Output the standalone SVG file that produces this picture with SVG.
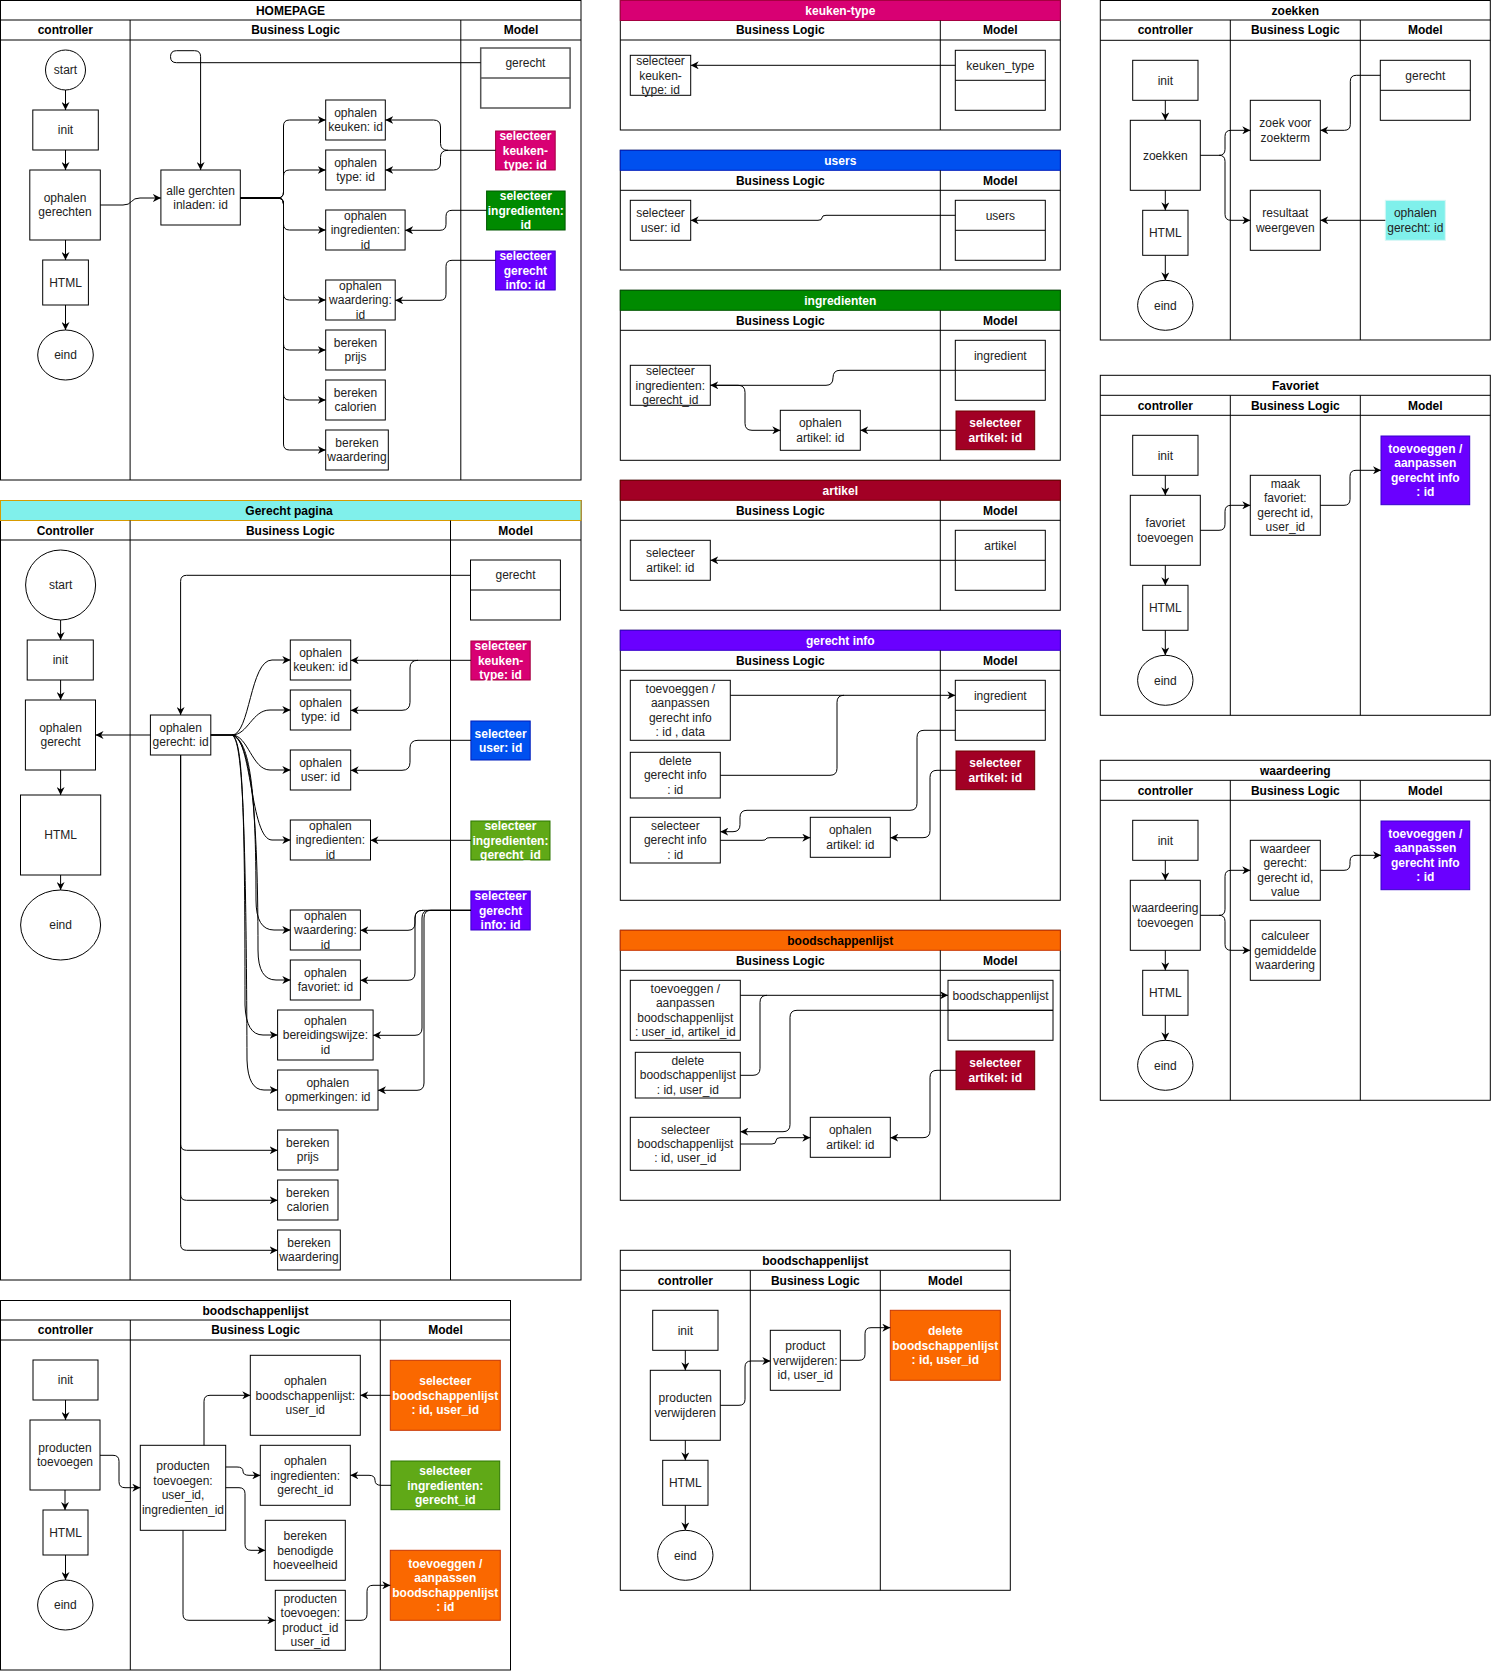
<svg xmlns="http://www.w3.org/2000/svg" width="1491" height="1671" viewBox="0 0 1491 1671">
<defs>
<marker id="arr" viewBox="0 0 10 10" refX="10" refY="5" markerWidth="8" markerHeight="8" markerUnits="userSpaceOnUse" orient="auto">
<path d="M0,0 L10,5 L0,10 L3,5 z" fill="#000"/>
</marker>
<style>
.lane{fill:none;stroke:#000;stroke-width:1}
.ln{stroke:#000;stroke-width:1;fill:none}
.n{fill:#fff;stroke:#000;stroke-width:1}
.ent{fill:#fff;stroke:#000;stroke-width:1}
.t{font-family:"Liberation Sans",Arial,sans-serif;font-size:12px;fill:#222;text-anchor:middle}
.b{font-weight:bold;fill:#000}
.wt{font-weight:bold;fill:#fff}
.e{stroke:#000;stroke-width:1;fill:none;marker-end:url(#arr)}
.c-mag{fill:#d80073;stroke:#A50040}
.c-grn{fill:#008a00;stroke:#005700}
.c-lgr{fill:#60a917;stroke:#2D7600}
.c-pur{fill:#6a00ff;stroke:#3700CC}
.c-blu{fill:#0050ef;stroke:#001DBC}
.c-org{fill:#fa6800;stroke:#C73500}
.c-red{fill:#a20025;stroke:#6F0000}
.c-cyn{fill:#80F0EB;stroke:#d8f7f5}
</style>
</defs>
<rect x="0" y="0" width="1491" height="1671" fill="#fff"/>

<!-- ============ HOMEPAGE ============ -->
<g id="pool-homepage">
<rect class="lane" x="0.5" y="0.5" width="580.5" height="479.5"/>
<path class="ln" d="M0.5,20 H581 M0.5,40 H581 M130.1,20 V480 M460.8,20 V480"/>
<text class="t b" x="290.5" y="14.5">HOMEPAGE</text>
<text class="t b" x="65.3" y="34.4">controller</text>
<text class="t b" x="295.5" y="34.4">Business Logic</text>
<text class="t b" x="521" y="34.4">Model</text>
</g>
<g id="hp-start"><circle class="n" cx="65.5" cy="70" r="20"/><text class="t" x="65.5" y="74.2">start</text></g>
<g id="hp-init"><rect class="n" x="32.8" y="110" width="65.5" height="40"/><text class="t" x="65.5" y="134.2">init</text></g>
<g id="hp-ophalen-gerechten"><rect class="n" x="29.8" y="170" width="70.5" height="70"/><text class="t" x="65" y="202">ophalen<tspan x="65" dy="14.4">gerechten</tspan></text></g>
<g id="hp-html"><rect class="n" x="42.7" y="260" width="45.7" height="45"/><text class="t" x="65.5" y="286.7">HTML</text></g>
<g id="hp-eind"><ellipse class="n" cx="65.5" cy="355" rx="27.8" ry="25"/><text class="t" x="65.5" y="359.2">eind</text></g>
<g id="hp-alle-gerechten"><rect class="n" x="160.9" y="170" width="79.4" height="55"/><text class="t" x="200.6" y="194.5">alle gerchten<tspan x="200.6" dy="14.4">inladen: id</tspan></text></g>
<g id="hp-gerecht"><rect class="ent" x="480.7" y="48" width="89.4" height="60" style="stroke:#555;stroke-width:1.5"/><path d="M480.7,78 H570.1" style="stroke:#555;stroke-width:1.5"/><text class="t" x="525.4" y="67.2">gerecht</text></g>
<g id="hp-ophalen-keuken"><rect class="n" x="325.7" y="100" width="59.6" height="40"/><text class="t" x="355.5" y="117">ophalen<tspan x="355.5" dy="14.4">keuken: id</tspan></text></g>
<g id="hp-ophalen-type"><rect class="n" x="325.7" y="150" width="59.6" height="40"/><text class="t" x="355.5" y="167">ophalen<tspan x="355.5" dy="14.4">type: id</tspan></text></g>
<g id="hp-ophalen-ingredienten"><rect class="n" x="325.7" y="210" width="79.4" height="40"/><text class="t" x="365.4" y="219.8">ophalen<tspan x="365.4" dy="14.4">ingredienten:</tspan><tspan x="365.4" dy="14.4">id</tspan></text></g>
<g id="hp-ophalen-waardering"><rect class="n" x="325.7" y="280" width="69.5" height="40"/><text class="t" x="360.4" y="289.8">ophalen<tspan x="360.4" dy="14.4">waardering:</tspan><tspan x="360.4" dy="14.4">id</tspan></text></g>
<g id="hp-bereken-prijs"><rect class="n" x="325.7" y="330" width="59.6" height="40"/><text class="t" x="355.5" y="347">bereken<tspan x="355.5" dy="14.4">prijs</tspan></text></g>
<g id="hp-bereken-calorien"><rect class="n" x="325.7" y="380" width="59.6" height="40"/><text class="t" x="355.5" y="397">bereken<tspan x="355.5" dy="14.4">calorien</tspan></text></g>
<g id="hp-bereken-waardering"><rect class="n" x="325.7" y="430" width="62.6" height="40"/><text class="t" x="357" y="447">bereken<tspan x="357" dy="14.4">waardering</tspan></text></g>
<g id="hp-sel-keuken-type"><rect class="c-mag" x="495.6" y="131" width="59.6" height="39"/><text class="t wt" x="525.4" y="140.3">selecteer<tspan x="525.4" dy="14.4">keuken-</tspan><tspan x="525.4" dy="14.4">type: id</tspan></text></g>
<g id="hp-sel-ingredienten"><rect class="c-grn" x="486.6" y="191" width="78.5" height="39"/><text class="t wt" x="525.8" y="200.3">selecteer<tspan x="525.8" dy="14.4">ingredienten:</tspan><tspan x="525.8" dy="14.4">id</tspan></text></g>
<g id="hp-sel-gerecht-info"><rect class="c-pur" x="495.6" y="251" width="59.6" height="39"/><text class="t wt" x="525.4" y="260.3">selecteer<tspan x="525.4" dy="14.4">gerecht</tspan><tspan x="525.4" dy="14.4">info: id</tspan></text></g>

<!-- ============ Gerecht pagina ============ -->
<g id="pool-gerecht-pagina">
<rect class="lane" x="0.5" y="500.5" width="580.5" height="779.5"/>
<rect x="0.5" y="500.5" width="580.5" height="20" fill="#80F0EB" stroke="#D79B00"/>
<path class="ln" d="M0.5,540 H581 M130.1,520.5 V1280 M450.5,520.5 V1280"/>
<text class="t b" x="289" y="514.9">Gerecht pagina</text>
<text class="t b" x="65.3" y="534.6">Controller</text>
<text class="t b" x="290.3" y="534.6">Business Logic</text>
<text class="t b" x="515.7" y="534.6">Model</text>
</g>
<g id="gp-start"><circle class="n" cx="60.6" cy="585" r="35"/><text class="t" x="60.6" y="589.2">start</text></g>
<g id="gp-init"><rect class="n" x="27.2" y="640" width="66.1" height="40"/><text class="t" x="60.3" y="664.2">init</text></g>
<g id="gp-ophalen-gerecht"><rect class="n" x="25.4" y="700" width="70.1" height="70"/><text class="t" x="60.5" y="732">ophalen<tspan x="60.5" dy="14.4">gerecht</tspan></text></g>
<g id="gp-html"><rect class="n" x="20.5" y="795" width="80.2" height="80"/><text class="t" x="60.6" y="839.2">HTML</text></g>
<g id="gp-eind"><ellipse class="n" cx="60.6" cy="925" rx="40" ry="35"/><text class="t" x="60.6" y="929.2">eind</text></g>
<g id="gp-ophalen-gerecht-id"><rect class="n" x="150.4" y="715" width="60.4" height="40"/><text class="t" x="180.6" y="732">ophalen<tspan x="180.6" dy="14.4">gerecht: id</tspan></text></g>
<g id="gp-gerecht"><rect class="ent" x="470.5" y="560" width="89.9" height="60"/><path class="ln" d="M470.5,590 H560.4"/><text class="t" x="515.5" y="579.2">gerecht</text></g>
<g id="gp-ophalen-keuken"><rect class="n" x="290.3" y="640" width="60.4" height="40"/><text class="t" x="320.5" y="657">ophalen<tspan x="320.5" dy="14.4">keuken: id</tspan></text></g>
<g id="gp-ophalen-type"><rect class="n" x="290.3" y="690" width="60.4" height="40"/><text class="t" x="320.5" y="707">ophalen<tspan x="320.5" dy="14.4">type: id</tspan></text></g>
<g id="gp-ophalen-user"><rect class="n" x="290.3" y="750" width="60.4" height="40"/><text class="t" x="320.5" y="767">ophalen<tspan x="320.5" dy="14.4">user: id</tspan></text></g>
<g id="gp-ophalen-ingredienten"><rect class="n" x="290.3" y="820" width="80.2" height="40"/><text class="t" x="330.4" y="829.8">ophalen<tspan x="330.4" dy="14.4">ingredienten:</tspan><tspan x="330.4" dy="14.4">id</tspan></text></g>
<g id="gp-ophalen-waardering"><rect class="n" x="290.3" y="910" width="70.1" height="40"/><text class="t" x="325.4" y="919.8">ophalen<tspan x="325.4" dy="14.4">waardering:</tspan><tspan x="325.4" dy="14.4">id</tspan></text></g>
<g id="gp-ophalen-favoriet"><rect class="n" x="290.3" y="960" width="70.1" height="40"/><text class="t" x="325.4" y="977">ophalen<tspan x="325.4" dy="14.4">favoriet: id</tspan></text></g>
<g id="gp-ophalen-bereidingswijze"><rect class="n" x="277.6" y="1010" width="95.5" height="50"/><text class="t" x="325.4" y="1024.8">ophalen<tspan x="325.4" dy="14.4">bereidingswijze:</tspan><tspan x="325.4" dy="14.4">id</tspan></text></g>
<g id="gp-ophalen-opmerkingen"><rect class="n" x="277.6" y="1070" width="100.4" height="40"/><text class="t" x="327.8" y="1087">ophalen<tspan x="327.8" dy="14.4">opmerkingen: id</tspan></text></g>
<g id="gp-bereken-prijs"><rect class="n" x="277.6" y="1130" width="60.4" height="40"/><text class="t" x="307.8" y="1147">bereken<tspan x="307.8" dy="14.4">prijs</tspan></text></g>
<g id="gp-bereken-calorien"><rect class="n" x="277.6" y="1180" width="60.4" height="40"/><text class="t" x="307.8" y="1197">bereken<tspan x="307.8" dy="14.4">calorien</tspan></text></g>
<g id="gp-bereken-waardering"><rect class="n" x="277.6" y="1230" width="62.7" height="40"/><text class="t" x="309" y="1247">bereken<tspan x="309" dy="14.4">waardering</tspan></text></g>
<g id="gp-sel-keuken-type"><rect class="c-mag" x="470.9" y="641" width="59.3" height="39"/><text class="t wt" x="500.6" y="650.3">selecteer<tspan x="500.6" dy="14.4">keuken-</tspan><tspan x="500.6" dy="14.4">type: id</tspan></text></g>
<g id="gp-sel-user"><rect class="c-blu" x="470.9" y="721" width="59.3" height="39"/><text class="t wt" x="500.6" y="737.5">selecteer<tspan x="500.6" dy="14.4">user: id</tspan></text></g>
<g id="gp-sel-ingredienten"><rect class="c-lgr" x="470.9" y="821" width="79.1" height="39"/><text class="t wt" x="510.4" y="830.3">selecteer<tspan x="510.4" dy="14.4">ingredienten:</tspan><tspan x="510.4" dy="14.4">gerecht_id</tspan></text></g>
<g id="gp-sel-gerecht-info"><rect class="c-pur" x="470.9" y="891" width="59.3" height="39"/><text class="t wt" x="500.6" y="900.3">selecteer<tspan x="500.6" dy="14.4">gerecht</tspan><tspan x="500.6" dy="14.4">info: id</tspan></text></g>

<!-- ============ boodschappenlijst (toevoegen) ============ -->
<g id="pool-boodschappen-toevoegen">
<rect class="lane" x="0.5" y="1300.5" width="510" height="369.5"/>
<path class="ln" d="M0.5,1320 H510.5 M0.5,1340 H510.5 M130.3,1320 V1670 M380.3,1320 V1670"/>
<text class="t b" x="255.5" y="1314.6">boodschappenlijst</text>
<text class="t b" x="65.5" y="1334.4">controller</text>
<text class="t b" x="255.5" y="1334.4">Business Logic</text>
<text class="t b" x="445.5" y="1334.4">Model</text>
</g>
<g id="bt-init"><rect class="n" x="33" y="1360" width="65" height="40"/><text class="t" x="65.5" y="1384.2">init</text></g>
<g id="bt-producten-toevoegen"><rect class="n" x="30" y="1420" width="70" height="70"/><text class="t" x="65" y="1452">producten<tspan x="65" dy="14.4">toevoegen</tspan></text></g>
<g id="bt-html"><rect class="n" x="43" y="1510" width="45" height="45"/><text class="t" x="65.5" y="1536.7">HTML</text></g>
<g id="bt-eind"><ellipse class="n" cx="65.3" cy="1605" rx="27.7" ry="25"/><text class="t" x="65.3" y="1609.2">eind</text></g>
<g id="bt-ophalen-bl"><rect class="n" x="250.3" y="1355.3" width="110" height="80"/><text class="t" x="305.3" y="1385.1">ophalen<tspan x="305.3" dy="14.4">boodschappenlijst:</tspan><tspan x="305.3" dy="14.4">user_id</tspan></text></g>
<g id="bt-producten-bl"><rect class="n" x="140.3" y="1445.3" width="85.4" height="85"/><text class="t" x="183" y="1470.4">producten<tspan x="183" dy="14.4">toevoegen:</tspan><tspan x="183" dy="14.4">user_id,</tspan><tspan x="183" dy="14.4">ingredienten_id</tspan></text></g>
<g id="bt-ophalen-ingredienten"><rect class="n" x="260.3" y="1445.3" width="90" height="60"/><text class="t" x="305.3" y="1465.1">ophalen<tspan x="305.3" dy="14.4">ingredienten:</tspan><tspan x="305.3" dy="14.4">gerecht_id</tspan></text></g>
<g id="bt-bereken"><rect class="n" x="265.3" y="1520.3" width="80" height="60"/><text class="t" x="305.3" y="1540.1">bereken<tspan x="305.3" dy="14.4">benodigde</tspan><tspan x="305.3" dy="14.4">hoeveelheid</tspan></text></g>
<g id="bt-producten-product"><rect class="n" x="275.3" y="1590.3" width="70" height="60"/><text class="t" x="310.3" y="1602.9">producten<tspan x="310.3" dy="14.4">toevoegen:</tspan><tspan x="310.3" dy="14.4">product_id</tspan><tspan x="310.3" dy="14.4">user_id</tspan></text></g>
<g id="bt-sel-bl"><rect class="c-org" x="390.3" y="1360.3" width="110" height="70"/><text class="t wt" x="445.3" y="1385.1">selecteer<tspan x="445.3" dy="14.4">boodschappenlijst</tspan><tspan x="445.3" dy="14.4">: id, user_id</tspan></text></g>
<g id="bt-sel-ingredienten"><rect class="c-lgr" x="391" y="1461" width="108.7" height="48.7"/><text class="t wt" x="445.3" y="1475.1">selecteer<tspan x="445.3" dy="14.4">ingredienten:</tspan><tspan x="445.3" dy="14.4">gerecht_id</tspan></text></g>
<g id="bt-toevoeggen"><rect class="c-org" x="390.3" y="1550.3" width="110" height="70"/><text class="t wt" x="445.3" y="1567.9">toevoeggen /<tspan x="445.3" dy="14.4">aanpassen</tspan><tspan x="445.3" dy="14.4">boodschappenlijst</tspan><tspan x="445.3" dy="14.4">: id</tspan></text></g>

<!-- ============ keuken-type ============ -->
<g id="pool-keuken-type">
<rect class="lane" x="620.3" y="0.5" width="440" height="129.5"/>
<rect class="c-mag" x="620.3" y="0.5" width="440" height="20"/>
<path class="ln" d="M620.3,40 H1060.3 M940.3,20.5 V130"/>
<text class="t wt" x="840.3" y="14.6">keuken-type</text>
<text class="t b" x="780.3" y="34.4">Business Logic</text>
<text class="t b" x="1000.3" y="34.4">Model</text>
</g>
<g id="kt-selecteer"><rect class="n" x="630.3" y="55.3" width="60.4" height="40"/><text class="t" x="660.5" y="65.1">selecteer<tspan x="660.5" dy="14.4">keuken-</tspan><tspan x="660.5" dy="14.4">type: id</tspan></text></g>
<g id="kt-entity"><rect class="ent" x="955.3" y="50.3" width="90" height="60"/><path class="ln" d="M955.3,80.3 H1045.3"/><text class="t" x="1000.3" y="69.5">keuken_type</text></g>

<!-- ============ users ============ -->
<g id="pool-users">
<rect class="lane" x="620.3" y="150.3" width="440" height="119.7"/>
<rect class="c-blu" x="620.3" y="150.3" width="440" height="20"/>
<path class="ln" d="M620.3,190.3 H1060.3 M940.3,170.3 V270"/>
<text class="t wt" x="840.3" y="164.7">users</text>
<text class="t b" x="780.3" y="184.7">Business Logic</text>
<text class="t b" x="1000.3" y="184.7">Model</text>
</g>
<g id="us-selecteer"><rect class="n" x="630.3" y="200.3" width="60.4" height="40"/><text class="t" x="660.5" y="217.3">selecteer<tspan x="660.5" dy="14.4">user: id</tspan></text></g>
<g id="us-entity"><rect class="ent" x="955.3" y="200.3" width="90" height="60"/><path class="ln" d="M955.3,230.3 H1045.3"/><text class="t" x="1000.3" y="219.5">users</text></g>

<!-- ============ ingredienten ============ -->
<g id="pool-ingredienten">
<rect class="lane" x="620.3" y="290.3" width="440" height="170"/>
<rect class="c-grn" x="620.3" y="290.3" width="440" height="20"/>
<path class="ln" d="M620.3,330.3 H1060.3 M940.3,310.3 V460.3"/>
<text class="t wt" x="840.3" y="304.7">ingredienten</text>
<text class="t b" x="780.3" y="324.7">Business Logic</text>
<text class="t b" x="1000.3" y="324.7">Model</text>
</g>
<g id="in-selecteer"><rect class="n" x="630.3" y="365.3" width="80" height="40"/><text class="t" x="670.3" y="375.1">selecteer<tspan x="670.3" dy="14.4">ingredienten:</tspan><tspan x="670.3" dy="14.4">gerecht_id</tspan></text></g>
<g id="in-entity"><rect class="ent" x="955.3" y="340.3" width="90" height="60"/><path class="ln" d="M955.3,370.3 H1045.3"/><text class="t" x="1000.3" y="359.5">ingredient</text></g>
<g id="in-ophalen-artikel"><rect class="n" x="780.3" y="410.3" width="80" height="40"/><text class="t" x="820.3" y="427.3">ophalen<tspan x="820.3" dy="14.4">artikel: id</tspan></text></g>
<g id="in-sel-artikel"><rect class="c-red" x="956" y="411" width="78.7" height="38.7"/><text class="t wt" x="995.3" y="427.3">selecteer<tspan x="995.3" dy="14.4">artikel: id</tspan></text></g>

<!-- ============ artikel ============ -->
<g id="pool-artikel">
<rect class="lane" x="620.3" y="480.3" width="440" height="130"/>
<rect class="c-red" x="620.3" y="480.3" width="440" height="20"/>
<path class="ln" d="M620.3,520.3 H1060.3 M940.3,500.3 V610.3"/>
<text class="t wt" x="840.3" y="494.7">artikel</text>
<text class="t b" x="780.3" y="514.7">Business Logic</text>
<text class="t b" x="1000.3" y="514.7">Model</text>
</g>
<g id="ar-selecteer"><rect class="n" x="630.3" y="540.3" width="80" height="40"/><text class="t" x="670.3" y="557.3">selecteer<tspan x="670.3" dy="14.4">artikel: id</tspan></text></g>
<g id="ar-entity"><rect class="ent" x="955.3" y="530.3" width="90" height="60"/><path class="ln" d="M955.3,560.3 H1045.3"/><text class="t" x="1000.3" y="549.5">artikel</text></g>

<!-- ============ gerecht info ============ -->
<g id="pool-gerecht-info">
<rect class="lane" x="620.3" y="630.3" width="440" height="270"/>
<rect class="c-pur" x="620.3" y="630.3" width="440" height="20"/>
<path class="ln" d="M620.3,670.3 H1060.3 M940.3,650.3 V900.3"/>
<text class="t wt" x="840.3" y="644.7">gerecht info</text>
<text class="t b" x="780.3" y="664.7">Business Logic</text>
<text class="t b" x="1000.3" y="664.7">Model</text>
</g>
<g id="gi-toevoeggen"><rect class="n" x="630.3" y="680.3" width="100" height="60"/><text class="t" x="680.3" y="692.9">toevoeggen /<tspan x="680.3" dy="14.4">aanpassen</tspan><tspan x="680.3" dy="14.4">gerecht info</tspan><tspan x="680.3" dy="14.4">: id , data</tspan></text></g>
<g id="gi-delete"><rect class="n" x="630.3" y="752.3" width="90" height="45.7"/><text class="t" x="675.3" y="765">delete<tspan x="675.3" dy="14.4">gerecht info</tspan><tspan x="675.3" dy="14.4">: id</tspan></text></g>
<g id="gi-selecteer"><rect class="n" x="630.3" y="817.3" width="90" height="45.7"/><text class="t" x="675.3" y="830">selecteer<tspan x="675.3" dy="14.4">gerecht info</tspan><tspan x="675.3" dy="14.4">: id</tspan></text></g>
<g id="gi-ophalen-artikel"><rect class="n" x="810.3" y="817.3" width="80" height="40"/><text class="t" x="850.3" y="834.3">ophalen<tspan x="850.3" dy="14.4">artikel: id</tspan></text></g>
<g id="gi-entity"><rect class="ent" x="955.3" y="680.3" width="90" height="60"/><path class="ln" d="M955.3,710.3 H1045.3"/><text class="t" x="1000.3" y="699.5">ingredient</text></g>
<g id="gi-sel-artikel"><rect class="c-red" x="956" y="751" width="78.7" height="38.7"/><text class="t wt" x="995.3" y="767.3">selecteer<tspan x="995.3" dy="14.4">artikel: id</tspan></text></g>

<!-- ============ boodschappenlijst (model) ============ -->
<g id="pool-boodschappenlijst">
<rect class="lane" x="620.3" y="930.3" width="440" height="270"/>
<rect class="c-org" x="620.3" y="930.3" width="440" height="20"/>
<path class="ln" d="M620.3,970.3 H1060.3 M940.3,950.3 V1200.3"/>
<text class="t b" x="840.3" y="944.7">boodschappenlijst</text>
<text class="t b" x="780.3" y="964.7">Business Logic</text>
<text class="t b" x="1000.3" y="964.7">Model</text>
</g>
<g id="bl-toevoeggen"><rect class="n" x="630.3" y="980.3" width="110" height="60"/><text class="t" x="685.3" y="992.9">toevoeggen /<tspan x="685.3" dy="14.4">aanpassen</tspan><tspan x="685.3" dy="14.4">boodschappenlijst</tspan><tspan x="685.3" dy="14.4">: user_id, artikel_id</tspan></text></g>
<g id="bl-delete"><rect class="n" x="635.3" y="1052.3" width="105" height="45.7"/><text class="t" x="687.8" y="1065">delete<tspan x="687.8" dy="14.4">boodschappenlijst</tspan><tspan x="687.8" dy="14.4">: id, user_id</tspan></text></g>
<g id="bl-selecteer"><rect class="n" x="630.3" y="1117.3" width="110" height="53"/><text class="t" x="685.3" y="1133.6">selecteer<tspan x="685.3" dy="14.4">boodschappenlijst</tspan><tspan x="685.3" dy="14.4">: id, user_id</tspan></text></g>
<g id="bl-ophalen-artikel"><rect class="n" x="810.3" y="1117.3" width="80" height="40"/><text class="t" x="850.3" y="1134.3">ophalen<tspan x="850.3" dy="14.4">artikel: id</tspan></text></g>
<g id="bl-entity"><rect class="ent" x="948" y="980.3" width="105" height="60"/><path class="ln" d="M948,1010.3 H1053"/><text class="t" x="1000.5" y="999.5">boodschappenlijst</text></g>
<g id="bl-sel-artikel"><rect class="c-red" x="956" y="1051" width="78.7" height="38.7"/><text class="t wt" x="995.3" y="1067.3">selecteer<tspan x="995.3" dy="14.4">artikel: id</tspan></text></g>

<!-- ============ boodschappenlijst (verwijderen) ============ -->
<g id="pool-boodschappen-verwijderen">
<rect class="lane" x="620.3" y="1250.3" width="390" height="340"/>
<path class="ln" d="M620.3,1270.3 H1010.3 M620.3,1290.3 H1010.3 M750.3,1270.3 V1590.3 M880.3,1270.3 V1590.3"/>
<text class="t b" x="815.3" y="1264.7">boodschappenlijst</text>
<text class="t b" x="685.3" y="1284.7">controller</text>
<text class="t b" x="815.3" y="1284.7">Business Logic</text>
<text class="t b" x="945.3" y="1284.7">Model</text>
</g>
<g id="bv-init"><rect class="n" x="652.7" y="1310.3" width="65.3" height="40"/><text class="t" x="685.3" y="1334.5">init</text></g>
<g id="bv-producten"><rect class="n" x="650.3" y="1370.3" width="70" height="70"/><text class="t" x="685.3" y="1402.3">producten<tspan x="685.3" dy="14.4">verwijderen</tspan></text></g>
<g id="bv-html"><rect class="n" x="662.7" y="1460.3" width="45.3" height="45"/><text class="t" x="685.3" y="1487">HTML</text></g>
<g id="bv-eind"><ellipse class="n" cx="685.3" cy="1555.3" rx="27.7" ry="25"/><text class="t" x="685.3" y="1559.5">eind</text></g>
<g id="bv-product-verwijderen"><rect class="n" x="770.3" y="1330.3" width="70" height="60"/><text class="t" x="805.3" y="1350.1">product<tspan x="805.3" dy="14.4">verwijderen:</tspan><tspan x="805.3" dy="14.4">id, user_id</tspan></text></g>
<g id="bv-delete"><rect class="c-org" x="890.3" y="1310.3" width="110" height="70"/><text class="t wt" x="945.3" y="1335.1">delete<tspan x="945.3" dy="14.4">boodschappenlijst</tspan><tspan x="945.3" dy="14.4">: id, user_id</tspan></text></g>

<!-- ============ zoekken ============ -->
<g id="pool-zoekken">
<rect class="lane" x="1100.3" y="0.5" width="390" height="339.5"/>
<path class="ln" d="M1100.3,20 H1490.3 M1100.3,40.3 H1490.3 M1230.3,20 V340 M1360.3,20 V340"/>
<text class="t b" x="1295.3" y="14.5">zoekken</text>
<text class="t b" x="1165.3" y="34.4">controller</text>
<text class="t b" x="1295.3" y="34.4">Business Logic</text>
<text class="t b" x="1425.3" y="34.4">Model</text>
</g>
<g id="zk-init"><rect class="n" x="1132.7" y="60.3" width="65.3" height="40"/><text class="t" x="1165.3" y="84.5">init</text></g>
<g id="zk-zoekken"><rect class="n" x="1130.3" y="120.3" width="70" height="70"/><text class="t" x="1165.3" y="159.5">zoekken</text></g>
<g id="zk-html"><rect class="n" x="1142.7" y="210.3" width="45.3" height="45"/><text class="t" x="1165.3" y="237">HTML</text></g>
<g id="zk-eind"><ellipse class="n" cx="1165.3" cy="305.3" rx="27.7" ry="25"/><text class="t" x="1165.3" y="309.5">eind</text></g>
<g id="zk-zoekterm"><rect class="n" x="1250.3" y="100.3" width="70" height="60"/><text class="t" x="1285.3" y="127.3">zoek voor<tspan x="1285.3" dy="14.4">zoekterm</tspan></text></g>
<g id="zk-resultaat"><rect class="n" x="1250.3" y="190.3" width="70" height="60"/><text class="t" x="1285.3" y="217.3">resultaat<tspan x="1285.3" dy="14.4">weergeven</tspan></text></g>
<g id="zk-gerecht"><rect class="ent" x="1380.3" y="60.3" width="90" height="60"/><path class="ln" d="M1380.3,90.3 H1470.3"/><text class="t" x="1425.3" y="79.5">gerecht</text></g>
<g id="zk-ophalen-gerecht"><rect class="c-cyn" x="1385.3" y="200.3" width="60" height="40"/><text class="t" x="1415.3" y="217.3">ophalen<tspan x="1415.3" dy="14.4">gerecht: id</tspan></text></g>

<!-- ============ Favoriet ============ -->
<g id="pool-favoriet">
<rect class="lane" x="1100.3" y="375.3" width="390" height="340"/>
<path class="ln" d="M1100.3,395.3 H1490.3 M1100.3,415.3 H1490.3 M1230.3,395.3 V715.3 M1360.3,395.3 V715.3"/>
<text class="t b" x="1295.3" y="389.7">Favoriet</text>
<text class="t b" x="1165.3" y="409.7">controller</text>
<text class="t b" x="1295.3" y="409.7">Business Logic</text>
<text class="t b" x="1425.3" y="409.7">Model</text>
</g>
<g id="fv-init"><rect class="n" x="1132.7" y="435.3" width="65.3" height="40"/><text class="t" x="1165.3" y="459.5">init</text></g>
<g id="fv-toevoegen"><rect class="n" x="1130.3" y="495.3" width="70" height="70"/><text class="t" x="1165.3" y="527.3">favoriet<tspan x="1165.3" dy="14.4">toevoegen</tspan></text></g>
<g id="fv-html"><rect class="n" x="1142.7" y="585.3" width="45.3" height="45"/><text class="t" x="1165.3" y="612">HTML</text></g>
<g id="fv-eind"><ellipse class="n" cx="1165.3" cy="680.3" rx="27.7" ry="25"/><text class="t" x="1165.3" y="684.5">eind</text></g>
<g id="fv-maak"><rect class="n" x="1250.3" y="475.3" width="70" height="60"/><text class="t" x="1285.3" y="487.9">maak<tspan x="1285.3" dy="14.4">favoriet:</tspan><tspan x="1285.3" dy="14.4">gerecht id,</tspan><tspan x="1285.3" dy="14.4">user_id</tspan></text></g>
<g id="fv-gerecht-info"><rect class="c-pur" x="1381" y="436" width="88.7" height="68.7"/><text class="t wt" x="1425.3" y="452.9">toevoeggen /<tspan x="1425.3" dy="14.4">aanpassen</tspan><tspan x="1425.3" dy="14.4">gerecht info</tspan><tspan x="1425.3" dy="14.4">: id</tspan></text></g>

<!-- ============ waardeering ============ -->
<g id="pool-waardeering">
<rect class="lane" x="1100.3" y="760.3" width="390" height="340"/>
<path class="ln" d="M1100.3,780.3 H1490.3 M1100.3,800.3 H1490.3 M1230.3,780.3 V1100.3 M1360.3,780.3 V1100.3"/>
<text class="t b" x="1295.3" y="774.7">waardeering</text>
<text class="t b" x="1165.3" y="794.7">controller</text>
<text class="t b" x="1295.3" y="794.7">Business Logic</text>
<text class="t b" x="1425.3" y="794.7">Model</text>
</g>
<g id="wd-init"><rect class="n" x="1132.7" y="820.3" width="65.3" height="40"/><text class="t" x="1165.3" y="844.5">init</text></g>
<g id="wd-toevoegen"><rect class="n" x="1130.3" y="880.3" width="70" height="70"/><text class="t" x="1165.3" y="912.3">waardeering<tspan x="1165.3" dy="14.4">toevoegen</tspan></text></g>
<g id="wd-html"><rect class="n" x="1142.7" y="970.3" width="45.3" height="45"/><text class="t" x="1165.3" y="997">HTML</text></g>
<g id="wd-eind"><ellipse class="n" cx="1165.3" cy="1065.3" rx="27.7" ry="25"/><text class="t" x="1165.3" y="1069.5">eind</text></g>
<g id="wd-waardeer"><rect class="n" x="1250.3" y="840.3" width="70" height="60"/><text class="t" x="1285.3" y="852.9">waardeer<tspan x="1285.3" dy="14.4">gerecht:</tspan><tspan x="1285.3" dy="14.4">gerecht id,</tspan><tspan x="1285.3" dy="14.4">value</tspan></text></g>
<g id="wd-calculeer"><rect class="n" x="1250.3" y="920.3" width="70" height="60"/><text class="t" x="1285.3" y="940.1">calculeer<tspan x="1285.3" dy="14.4">gemiddelde</tspan><tspan x="1285.3" dy="14.4">waardering</tspan></text></g>
<g id="wd-gerecht-info"><rect class="c-pur" x="1381" y="821" width="88.7" height="68.7"/><text class="t wt" x="1425.3" y="837.9">toevoeggen /<tspan x="1425.3" dy="14.4">aanpassen</tspan><tspan x="1425.3" dy="14.4">gerecht info</tspan><tspan x="1425.3" dy="14.4">: id</tspan></text></g>

<!-- ============ connectors ============ -->
<g id="connectors">
<!-- HOMEPAGE -->
<path class="e" d="M65.5,90 V110"/>
<path class="e" d="M65.5,150 V170"/>
<path class="e" d="M65.5,240 V260"/>
<path class="e" d="M65.5,305 V330"/>
<path class="e" d="M100.3,205 H123 Q129,205 131.5,201.5 Q134,198 140,198 H160.9"/>
<path class="e" d="M480.7,62.7 H176.5 Q170.5,62.7 170.5,56.7 Q170.5,50.7 176.5,50.7 H194.6 Q200.6,50.7 200.6,56.7 V170"/>
<path class="e" d="M240.3,198 H277.5 Q283.5,198 283.5,192 V126 Q283.5,120 289.5,120 H325.7"/>
<path class="e" d="M240.3,198 H277.5 Q283.5,198 283.5,192 V176 Q283.5,170 289.5,170 H325.7"/>
<path class="e" d="M240.3,198 H277.5 Q283.5,198 283.5,204 V224 Q283.5,230 289.5,230 H325.7"/>
<path class="e" d="M240.3,198 H277.5 Q283.5,198 283.5,204 V294 Q283.5,300 289.5,300 H325.7"/>
<path class="e" d="M240.3,198 H277.5 Q283.5,198 283.5,204 V344 Q283.5,350 289.5,350 H325.7"/>
<path class="e" d="M240.3,198 H277.5 Q283.5,198 283.5,204 V394 Q283.5,400 289.5,400 H325.7"/>
<path class="e" d="M240.3,198 H277.5 Q283.5,198 283.5,204 V444 Q283.5,450 289.5,450 H325.7"/>
<path class="e" d="M495.6,150.3 H448 Q440.5,150.3 440.5,143.3 V127 Q440.5,120 433.5,120 H385.3"/>
<path class="e" d="M448,150.3 Q440.5,150.3 440.5,157.3 V163 Q440.5,170 433.5,170 H385.3"/>
<path class="e" d="M486.6,210.3 H452 Q446,210.3 446,216.3 V224.3 Q446,230.3 440,230.3 H405.1"/>
<path class="e" d="M495.6,260.3 H452 Q446,260.3 446,266.3 V294.3 Q446,300.3 440,300.3 H395.2"/>
<!-- Gerecht pagina -->
<path class="e" d="M60.6,620 V640"/>
<path class="e" d="M60.6,680 V700"/>
<path class="e" d="M60.6,770 V795"/>
<path class="e" d="M60.6,875 V890"/>
<path class="e" d="M150.4,735 H95.5"/>
<path class="e" d="M470.5,575.3 H186.6 Q180.6,575.3 180.6,581.3 V715"/>
<path class="e" d="M180.6,755 V1144.3 Q180.6,1150.3 186.6,1150.3 H277.6"/>
<path class="e" d="M180.6,755 V1194.3 Q180.6,1200.3 186.6,1200.3 H277.6"/>
<path class="e" d="M180.6,755 V1244.3 Q180.6,1250.3 186.6,1250.3 H277.6"/>
<path class="e" d="M210.8,735 H232 C250,735 250,660 272,660 H290.3"/>
<path class="e" d="M210.8,735 H232 C248,735 252,710 270,710 H290.3"/>
<path class="e" d="M210.8,735 H232 C248,735 252,770 270,770 H290.3"/>
<path class="e" d="M210.8,735 H232 C252,735 250,840 272,840 H290.3"/>
<path class="e" d="M232,735 C250,740 256,790 256,900 Q256,930 274,930 H290.3"/>
<path class="e" d="M232,735 C248,740 258,790 258,950 Q258,980 276,980 H290.3"/>
<path class="e" d="M232,735 C242,740 245,790 245,1005 Q246,1035 263,1035 H277.6"/>
<path class="e" d="M232,735 C241,740 246,790 247,1060 Q248,1090 264,1090 H277.6"/>
<path class="e" d="M470.9,660.3 H350.7"/>
<path class="e" d="M418,660.3 Q410,660.3 410,668 V702.3 Q410,710.3 402,710.3 H350.7"/>
<path class="e" d="M470.9,740.3 H418 Q410,740.3 410,748 V762.3 Q410,770.3 402,770.3 H350.7"/>
<path class="e" d="M470.9,840.3 H370.5"/>
<path class="e" d="M470.9,910.3 H423 Q415,910.3 415,918 V923 Q415,930.3 408,930.3 H360.4"/>
<path class="e" d="M423,910.3 Q415,910.3 415,918 V973 Q415,980.3 408,980.3 H360.4"/>
<path class="e" d="M470.9,910.3 H429 Q422,910.3 422,918 V1028 Q422,1035.3 415,1035.3 H373.1"/>
<path class="e" d="M470.9,910.3 H431 Q424,910.3 424,918 V1083 Q424,1090.3 417,1090.3 H378"/>
<!-- boodschappenlijst (toevoegen) -->
<path class="e" d="M65.5,1400 V1420"/>
<path class="e" d="M65,1490 V1510"/>
<path class="e" d="M65.5,1555 V1580"/>
<path class="e" d="M100,1455.3 H113 Q119,1455.3 119,1461.3 V1481.7 Q119,1487.7 125,1487.7 H140.3"/>
<path class="e" d="M204,1445.3 V1401.3 Q204,1395.3 210,1395.3 H250.3"/>
<path class="e" d="M225.7,1467 H237 Q243,1467 243,1471.2 Q243,1475.3 249,1475.3 H260.3"/>
<path class="e" d="M225.7,1487.7 H239 Q245,1487.7 245,1493.7 V1544.3 Q245,1550.3 251,1550.3 H265.3"/>
<path class="e" d="M183,1530.3 V1614.3 Q183,1620.3 189,1620.3 H275.3"/>
<path class="e" d="M390.3,1395.3 H360.3"/>
<path class="e" d="M391,1485.3 H381 Q375,1485.3 375,1480.3 Q375,1475.3 369,1475.3 H350.3"/>
<path class="e" d="M345.3,1620.3 H361 Q367,1620.3 367,1614.3 V1591.3 Q367,1585.3 373,1585.3 H390.3"/>
<!-- keuken-type / users -->
<path class="e" d="M955.3,65.3 H690.7"/>
<path class="e" d="M955.3,215.3 H826 Q822,215.3 822,217.8 Q822,220.3 818,220.3 H690.7"/>
<!-- ingredienten -->
<path class="e" d="M955.3,370.3 H840 Q833,370.3 833,377.8 Q833,385.3 826,385.3 H710.3"/>
<path class="e" d="M710.3,385.3 H738 Q745,385.3 745,392.3 V423.3 Q745,430.3 752,430.3 H780.3"/>
<path class="e" d="M956,430.3 H860.3"/>
<!-- artikel -->
<path class="e" d="M955.3,560.3 H710.3"/>
<!-- gerecht info -->
<path class="e" d="M730.3,695.3 H955.3"/>
<path class="ln" d="M720.3,775.3 H830 Q837,775.3 837,768.3 V702.3 Q837,695.3 844,695.3"/>
<path class="e" d="M955.3,730.3 H924 Q917,730.3 917,737.3 V803.3 Q917,810.3 910,810.3 H747 Q740,810.3 740,817.3 V824.7 Q740,831.7 733,831.7 H720.3"/>
<path class="e" d="M720.3,840.3 H762 Q766,840.3 766,839 Q766,837.7 770,837.7 H810.3"/>
<path class="e" d="M956,770.3 H937 Q930,770.3 930,777.3 V830.7 Q930,837.7 923,837.7 H890.3"/>
<!-- boodschappenlijst (model) -->
<path class="e" d="M740.3,995.3 H948"/>
<path class="ln" d="M740.3,1075.3 H753 Q760,1075.3 760,1068.3 V1002.3 Q760,995.3 767,995.3"/>
<path class="e" d="M1053,1010.3 H797 Q790,1010.3 790,1017.3 V1124.7 Q790,1131.7 783,1131.7 H740.3"/>
<path class="e" d="M740.3,1144 H772 Q776,1144 776,1140.8 Q776,1137.7 780,1137.7 H810.3"/>
<path class="e" d="M956,1070.3 H937 Q930,1070.3 930,1077.3 V1130.7 Q930,1137.7 923,1137.7 H890.3"/>
<!-- boodschappenlijst (verwijderen) -->
<path class="e" d="M685.3,1350.3 V1370.3"/>
<path class="e" d="M685.3,1440.3 V1460.3"/>
<path class="e" d="M685.3,1505.3 V1530.3"/>
<path class="e" d="M720.3,1405.3 H739 Q745,1405.3 745,1399.3 V1367 Q745,1361 751,1361 H770.3"/>
<path class="e" d="M840.3,1360.3 H859 Q865,1360.3 865,1354.3 V1333.7 Q865,1327.7 871,1327.7 H890.3"/>
<!-- zoekken -->
<path class="e" d="M1165.3,100.3 V120.3"/>
<path class="e" d="M1165.3,190.3 V210.3"/>
<path class="e" d="M1165.3,255.3 V280.3"/>
<path class="e" d="M1200.3,155.3 H1219 Q1225,155.3 1225,149.3 V136.3 Q1225,130.3 1231,130.3 H1250.3"/>
<path class="e" d="M1219,155.3 Q1225,155.3 1225,161.3 V214.3 Q1225,220.3 1231,220.3 H1250.3"/>
<path class="e" d="M1380.3,75.3 H1356.3 Q1350.3,75.3 1350.3,81.3 V124.3 Q1350.3,130.3 1344.3,130.3 H1320.3"/>
<path class="e" d="M1385.3,220.3 H1320.3"/>
<!-- Favoriet -->
<path class="e" d="M1165.3,475.3 V495.3"/>
<path class="e" d="M1165.3,565.3 V585.3"/>
<path class="e" d="M1165.3,630.3 V655.3"/>
<path class="e" d="M1200.3,530.3 H1219 Q1225,530.3 1225,524.3 V511.3 Q1225,505.3 1231,505.3 H1250.3"/>
<path class="e" d="M1320.3,505.3 H1344 Q1350,505.3 1350,499.3 V476.3 Q1350,470.3 1356,470.3 H1381"/>
<!-- waardeering -->
<path class="e" d="M1165.3,860.3 V880.3"/>
<path class="e" d="M1165.3,950.3 V970.3"/>
<path class="e" d="M1165.3,1015.3 V1040.3"/>
<path class="e" d="M1200.3,915.3 H1219 Q1225,915.3 1225,909.3 V876.3 Q1225,870.3 1231,870.3 H1250.3"/>
<path class="e" d="M1219,915.3 Q1225,915.3 1225,921.3 V944.3 Q1225,950.3 1231,950.3 H1250.3"/>
<path class="e" d="M1320.3,870.3 H1344 Q1350,870.3 1350,864.3 V861.3 Q1350,855.3 1356,855.3 H1381"/>
</g>
</svg>
